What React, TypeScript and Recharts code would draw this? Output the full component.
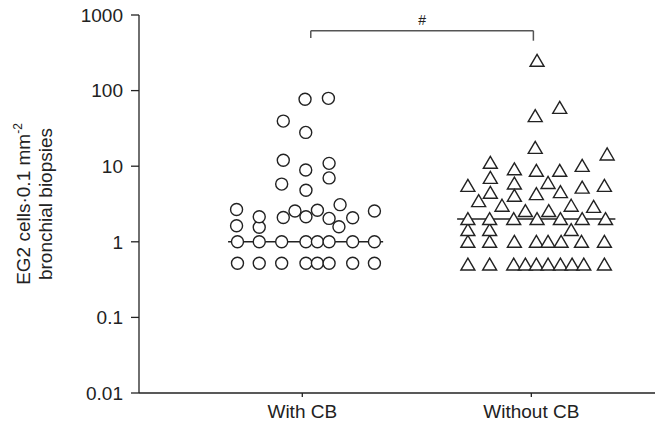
import React from 'react';
import { ScatterChart, Scatter, XAxis, YAxis, ReferenceLine } from 'recharts';

// Groups on the x axis
const categories = ['With CB', 'Without CB'];
const yTicks = [0.01, 0.1, 1, 10, 100, 1000];

// Jittered positions [x, value]
const withCB: [number, number][] = [
  [0.717, 0.52], [0.812, 0.52], [0.91, 0.52], [1.016, 0.52], [1.066, 0.52], [1.117, 0.52], [1.22, 0.52], [1.315, 0.52],
  [0.717, 1], [0.812, 1], [0.91, 1], [1.016, 1], [1.066, 1], [1.117, 1], [1.22, 1], [1.315, 1],
  [0.713, 1.63], [0.812, 1.56], [1.16, 1.58],
  [0.713, 2.68], [0.812, 2.14], [0.917, 2.1], [0.968, 2.55], [1.016, 2.14], [1.066, 2.62], [1.117, 2.04],
  [1.165, 3.1], [1.22, 2.08], [1.315, 2.55],
  [0.91, 5.8], [1.016, 4.8], [0.917, 12], [1.015, 8.9], [1.117, 10.9], [1.117, 7.0],
  [0.917, 39.5], [1.015, 28], [1.012, 77], [1.114, 79],
];

const withoutCB: [number, number][] = [
  [1.723, 0.5], [1.818, 0.5], [1.923, 0.5], [1.974, 0.5], [2.022, 0.5], [2.073, 0.5], [2.127, 0.5], [2.178, 0.5], [2.229, 0.5], [2.319, 0.5],
  [1.723, 1], [1.818, 1], [1.926, 1], [2.022, 1], [2.073, 1], [2.13, 1], [2.219, 1], [2.319, 1],
  [1.723, 1.43], [1.818, 1.43], [2.174, 1.43],
  [1.723, 2], [1.818, 2], [1.923, 2], [2.025, 2], [2.127, 2], [2.222, 2], [2.324, 2],
  [1.974, 2.55], [2.076, 2.55], [2.174, 3.0], [2.272, 2.9], [1.872, 3.0], [1.77, 3.45],
  [1.723, 5.5], [1.821, 4.45], [1.821, 7.0], [1.821, 11.1], [1.926, 9.1], [1.926, 5.9], [1.926, 4.06],
  [2.022, 8.7], [2.022, 4.27], [2.073, 6.0], [2.124, 8.7], [2.127, 4.54], [2.222, 10.1], [2.222, 5.2],
  [2.319, 5.5], [2.331, 14.3], [2.017, 17.5], [2.017, 46], [2.124, 59], [2.025, 248],
];

// median lines: [x start, x end, value]
const medians: [number, number, number][] = [
  [0.676, 1.353, 1],
  [1.676, 2.367, 2],
];

// significance bracket
const bracketX = [1.037, 2.009];
const bracketY = 620;
const bracketLeftEnd = 497;
const bracketRightEnd = 457;
const bracketMark = '#';

const FONT = '"Liberation Sans", Arial, sans-serif';
const INK = '#222';

const toPoints = (arr: [number, number][]) => arr.map(([x, y]) => ({ x, y }));

const Circle = (props: any) => {
  const { cx, cy } = props;
  return <circle cx={cx} cy={cy} r={6} fill="#fff" stroke={INK} strokeWidth={1.4} />;
};

const Triangle = (props: any) => {
  const { cx, cy } = props;
  return (
    <path
      d={`M${cx},${cy - 6.5} L${cx + 7},${cy + 5.5} L${cx - 7},${cy + 5.5} Z`}
      fill="#fff"
      stroke={INK}
      strokeWidth={1.4}
      strokeLinejoin="miter"
    />
  );
};

const MarkLabel = (props: any) => {
  const { cx, cy } = props;
  return (
    <text x={cx} y={cy - 6} textAnchor="middle" fontSize={14} fontFamily={FONT} fill={INK}>
      {bracketMark}
    </text>
  );
};

const YLabel = (props: any) => {
  const vb = props.viewBox || {};
  const cy = vb.y + vb.height / 2;
  return (
    <text
      transform={`translate(0, ${cy}) rotate(-90)`}
      textAnchor="middle"
      fontSize={19}
      fontFamily={FONT}
      fill={INK}
    >
      <tspan x={0} y={30}>
        EG2 cells·0.1 mm<tspan fontSize={12} dy={-8}>-2</tspan>
      </tspan>
      <tspan x={0} y={52}>bronchial biopsies</tspan>
    </text>
  );
};

export default function App() {
  return (
    <div style={{ position: 'absolute', left: 0, top: 0, background: '#fff' }}>
      <ScatterChart
        width={665}
        height={424}
        margin={{ top: 15, right: 10, bottom: 0, left: 0 }}
        style={{ fontFamily: FONT }}
      >
        <XAxis
          type="number"
          dataKey="x"
          domain={[0.287, 2.54]}
          ticks={[1, 2]}
          tickFormatter={(v: number) => categories[v - 1]}
          allowDataOverflow
          height={31}
          tickSize={4}
          tickMargin={8}
          stroke={INK}
          strokeWidth={1.3}
          tick={{ fill: INK, fontSize: 19, fontFamily: FONT }}
        />
        <YAxis
          type="number"
          dataKey="y"
          scale="log"
          domain={[0.01, 1000]}
          ticks={yTicks}
          allowDataOverflow
          width={139}
          tickSize={8}
          tickMargin={8}
          stroke={INK}
          strokeWidth={1.3}
          tick={{ fill: INK, fontSize: 19, fontFamily: FONT }}
          tickFormatter={(v: number) => String(v)}
          label={{ content: <YLabel /> }}
        />
        <Scatter data={toPoints(withCB)} shape={<Circle />} isAnimationActive={false} />
        <Scatter data={toPoints(withoutCB)} shape={<Triangle />} isAnimationActive={false} />
        {medians.map(([x1, x2, v], i) => (
          <ReferenceLine
            key={i}
            segment={[{ x: x1, y: v }, { x: x2, y: v }]}
            stroke={INK}
            strokeWidth={1.6}
          />
        ))}
        <ReferenceLine
          segment={[{ x: bracketX[0], y: bracketY }, { x: bracketX[1], y: bracketY }]}
          stroke="#555"
          strokeWidth={1.5}
        />
        <ReferenceLine
          segment={[{ x: bracketX[0], y: bracketY }, { x: bracketX[0], y: bracketLeftEnd }]}
          stroke="#555"
          strokeWidth={1.5}
        />
        <ReferenceLine
          segment={[{ x: bracketX[1], y: bracketY }, { x: bracketX[1], y: bracketRightEnd }]}
          stroke="#555"
          strokeWidth={1.5}
        />
        <Scatter
          data={[{ x: (bracketX[0] + bracketX[1]) / 2, y: bracketY }]}
          shape={<MarkLabel />}
          isAnimationActive={false}
        />
      </ScatterChart>
    </div>
  );
}
